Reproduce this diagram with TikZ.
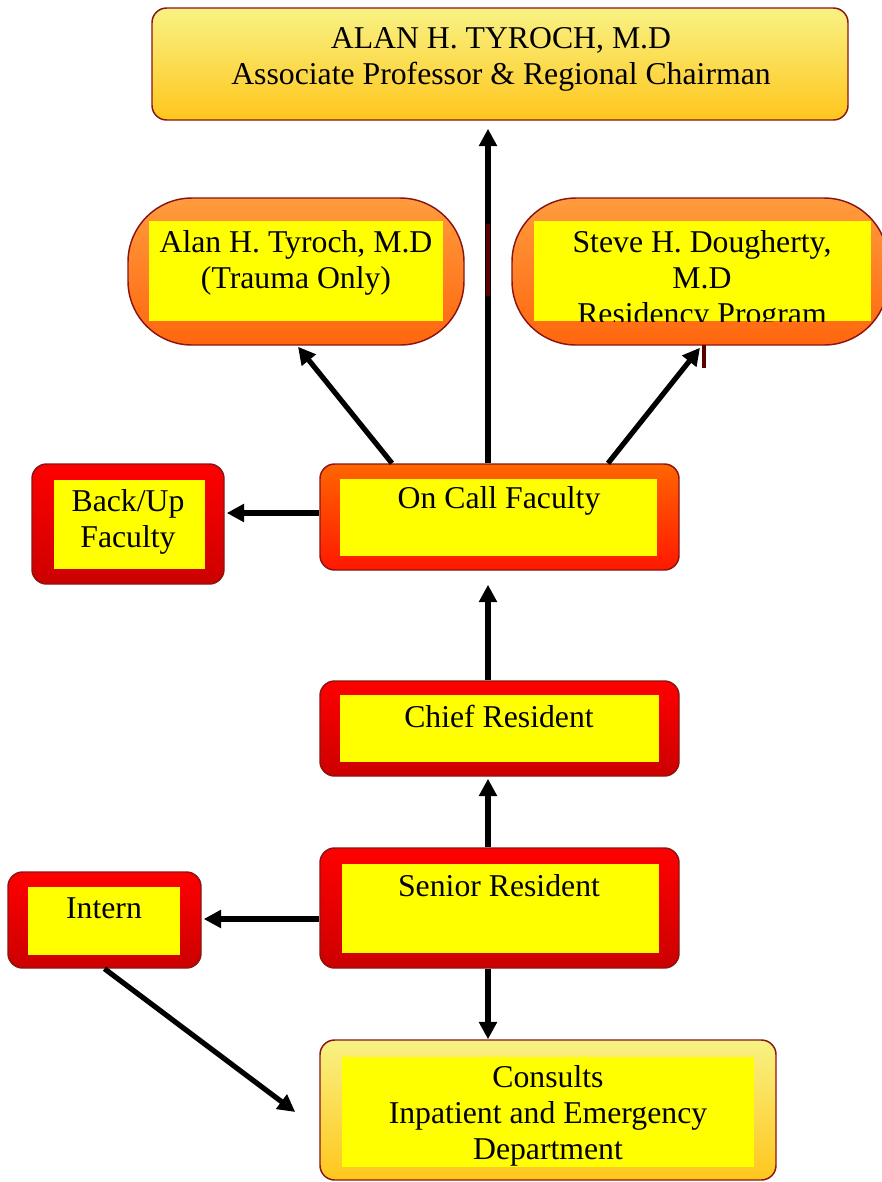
\documentclass[tikz,border=0pt]{standalone}
\usepackage{fontspec}
\setmainfont{Liberation Serif}
\usetikzlibrary{arrows.meta,calc}
\definecolor{bord}{HTML}{8B1414}
\definecolor{ylight}{HTML}{F8F284}
\definecolor{ygold}{HTML}{FFC61C}
\definecolor{olight}{HTML}{FF9C3E}
\definecolor{odark}{HTML}{FF660E}
\definecolor{octop}{HTML}{FF6600}
\definecolor{ocbot}{HTML}{FF1800}
\definecolor{rtop}{HTML}{FF0000}
\definecolor{rbot}{HTML}{CC0000}
\definecolor{inyel}{HTML}{FFFF00}
\definecolor{darkmarkcol}{HTML}{5A0000}
\tikzset{
  outerbox/.style={draw=bord, line width=1.1pt, rounded corners=11pt, inner sep=0pt, shading=axis},
  goldbox/.style={outerbox, top color=ylight, bottom color=ygold},
  orangebox/.style={outerbox, top color=olight, bottom color=odark, rounded corners=48pt},
  oncallbox/.style={outerbox, top color=octop, bottom color=ocbot},
  redbox/.style={outerbox, top color=rtop, bottom color=rbot},
  yelbox/.style={fill=inyel, draw=none, inner sep=0pt},
  lbl/.style={inner sep=0pt, align=center, font=\fontsize{23.8}{27}\selectfont},
  arr/.style={line width=3.9pt, -{Triangle[length=13pt,width=13pt]}}
}
\begin{document}
\begin{tikzpicture}[x=0.75pt,y=-0.75pt]
\useasboundingbox (0,0) rectangle (882,1182);
% top box
\node[goldbox, minimum width=522pt, minimum height=84pt] (top) at (500,64) {};
\node[lbl] (toptxt) at (501,59.5) {ALAN H. TYROCH, M.D\\Associate Professor \& Regional Chairman};
% trauma
\node[orangebox, minimum width=252pt, minimum height=110.25pt] (trauma) at (296,271.5) {};
\node[yelbox, minimum width=220.5pt, minimum height=75pt] (traumain) at (296,271) {};
\node[lbl] (traumatxt) at (296,262.5) {Alan H. Tyroch, M.D\\(Trauma Only)};
% dougherty
\node[orangebox, minimum width=282pt, minimum height=110.25pt] (dough) at (700,271.5) {};
\node[yelbox, minimum width=252.75pt, minimum height=75pt] (doughin) at (702.5,271) {};
\begin{scope}
\clip (534,221) rectangle (871,321);
\node[lbl] (doughtxt) at (702,280.5) {Steve H. Dougherty,\\M.D\\Residency Program};
\end{scope}
% backup
\node[redbox, minimum width=144pt, minimum height=90pt] (backup) at (128,524) {};
\node[yelbox, minimum width=113.25pt, minimum height=66.75pt] (backupin) at (129.5,524.5) {};
\node[lbl] (backuptxt) at (128,521.5) {Back/Up\\Faculty};
% on call
\node[oncallbox, minimum width=269.25pt, minimum height=79.5pt] (oncall) at (499.5,517) {};
\node[yelbox, minimum width=237.75pt, minimum height=57.75pt] (oncallin) at (498.5,517.5) {};
\node[lbl] (oncalltxt) at (499,500.5) {On Call Faculty};
% chief
\node[redbox, minimum width=269.25pt, minimum height=71.25pt] (chief) at (499.5,728.5) {};
\node[yelbox, minimum width=239.25pt, minimum height=50.25pt] (chiefin) at (499.5,728.5) {};
\node[lbl] (chieftxt) at (499,716.5) {Chief Resident};
% senior
\node[redbox, minimum width=269.25pt, minimum height=90pt] (senior) at (499.5,908) {};
\node[yelbox, minimum width=237.75pt, minimum height=66.75pt] (seniorin) at (500.5,908.5) {};
\node[lbl] (seniortxt) at (499,885.5) {Senior Resident};
% intern
\node[redbox, minimum width=144.75pt, minimum height=72pt] (intern) at (104.5,920) {};
\node[yelbox, minimum width=114pt, minimum height=51pt] (internin) at (104,921) {};
\node[lbl] (interntxt) at (104,908.5) {Intern};
% consults
\node[goldbox, minimum width=342pt, minimum height=105pt] (consults) at (548,1110) {};
\node[yelbox, minimum width=309pt, minimum height=82.5pt] (consultsin) at (548,1112) {};
\node[lbl] (consultstxt) at (548,1115.5) {Consults\\Inpatient and Emergency\\Department};
% arrows
\draw[arr] ($(oncall.north)+(-11.5,0)$) -- ($(top.south)+(-12,8)$);
\fill[darkmarkcol] (485.6,224) rectangle (490.4,296);
\draw[arr] ($(oncall.north)+(-107.5,0)$) -- ($(trauma.south)+(2,1)$);
\draw[arr] ($(oncall.north)+(108.5,0)$) -- ($(dough.south)+(0,2)$);
\fill[darkmarkcol] (701.5,345) rectangle (706,368);
\draw[arr] ($(oncall.west)+(0,-4)$) -- ($(backup.east)+(2,-11)$);
\draw[arr] ($(chief.north)+(-11.5,0)$) -- ($(oncall.south)+(-11.5,14)$);
\draw[arr] ($(senior.north)+(-11.5,0)$) -- ($(chief.south)+(-11.5,2)$);
\draw[arr] ($(senior.west)+(0,11)$) -- ($(intern.east)+(2,-1)$);
\draw[arr] ($(senior.south)+(-11.5,0)$) -- ($(consults.north)+(-60,0)$);
\draw[arr] ($(intern.south)+(0,0)$) -- ($(consults.west)+(-24,2)$);
\end{tikzpicture}
\end{document}
